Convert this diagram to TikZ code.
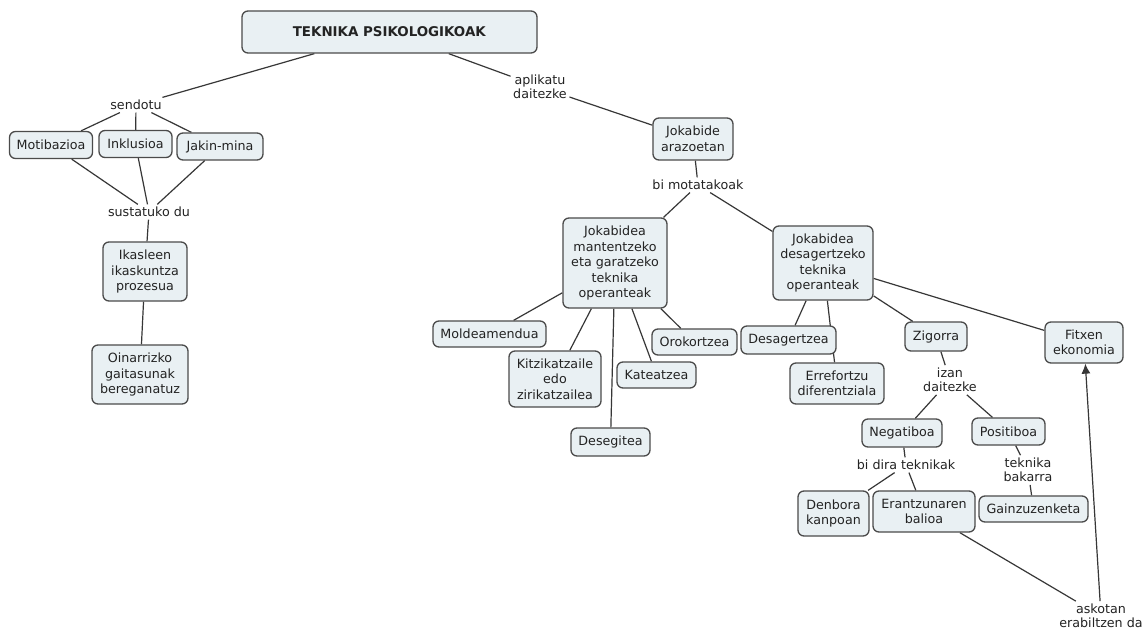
\documentclass[tikz,border=0pt]{standalone}
\usepackage{fontspec}
\setmainfont{DejaVu Sans}
\usetikzlibrary{arrows.meta,backgrounds}
\definecolor{boxfill}{RGB}{233,240,243}
\definecolor{boxline}{RGB}{75,75,75}
\definecolor{linkline}{RGB}{55,55,55}
\definecolor{txt}{RGB}{35,35,35}
\begin{document}
\begin{tikzpicture}[x=1pt,y=-1pt,
  concept/.style={draw=boxline, fill=boxfill, rounded corners=6pt, line width=1.3pt,
    inner sep=0pt, align=center, text=txt, font=\fontsize{12.7}{15.5}\selectfont},
  phrase/.style={inner sep=2.5pt, align=center, text=txt, font=\fontsize{12.7}{14.5}\selectfont},
  conn/.style={draw=linkline, line width=1.2pt},
  arr/.style={conn, -{Latex[length=10pt,width=9pt]}}
]
\useasboundingbox (0,0) rectangle (1146,631);

% concepts
\node[concept, minimum width=295pt, minimum height=42pt] (tek) at (389.5,32) {\fontsize{13.4}{16}\selectfont\textbf{TEKNIKA PSIKOLOGIKOAK}};
\node[concept, minimum width=83pt, minimum height=27pt] (moti) at (51,145) {Motibazioa};
\node[concept, minimum width=73pt, minimum height=27pt] (inkl) at (135.5,144) {Inklusioa};
\node[concept, minimum width=86pt, minimum height=27pt] (jaki) at (220,146.5) {Jakin-mina};
\node[concept, minimum width=84pt, minimum height=59pt] (ikas) at (145,271.5) {Ikasleen\\ikaskuntza\\prozesua};
\node[concept, minimum width=96pt, minimum height=59pt] (oina) at (140,374.5) {Oinarrizko\\gaitasunak\\bereganatuz};
\node[concept, minimum width=80pt, minimum height=42pt] (joka) at (693,139) {Jokabide\\arazoetan};
\node[concept, minimum width=104pt, minimum height=90pt] (mant) at (615,263) {Jokabidea\\mantentzeko\\eta garatzeko\\teknika\\operanteak};
\node[concept, minimum width=100pt, minimum height=74pt] (desa) at (823,263) {Jokabidea\\desagertzeko\\teknika\\operanteak};
\node[concept, minimum width=113pt, minimum height=26pt] (mold) at (489.5,334) {Moldeamendua};
\node[concept, minimum width=92pt, minimum height=56pt] (kitz) at (555,379) {Kitzikatzaile\\edo\\zirikatzailea};
\node[concept, minimum width=79pt, minimum height=28pt] (dese) at (610.5,442) {Desegitea};
\node[concept, minimum width=79pt, minimum height=26pt] (kate) at (656.5,375) {Kateatzea};
\node[concept, minimum width=85pt, minimum height=26pt] (orok) at (694.5,342) {Orokortzea};
\node[concept, minimum width=95pt, minimum height=28pt] (dsgt) at (788.5,340) {Desagertzea};
\node[concept, minimum width=94pt, minimum height=41pt] (erre) at (837,383.5) {Errefortzu\\diferentziala};
\node[concept, minimum width=62pt, minimum height=29pt] (zigo) at (936,336.5) {Zigorra};
\node[concept, minimum width=78pt, minimum height=41pt] (fitx) at (1084,342.5) {Fitxen\\ekonomia};
\node[concept, minimum width=80pt, minimum height=28pt] (nega) at (902,433) {Negatiboa};
\node[concept, minimum width=73pt, minimum height=27pt] (posi) at (1008.5,431.5) {Positiboa};
\node[concept, minimum width=71pt, minimum height=45pt] (denb) at (833.5,513.5) {Denbora\\kanpoan};
\node[concept, minimum width=102pt, minimum height=41pt] (eran) at (924,511.5) {Erantzunaren\\balioa};
\node[concept, minimum width=109pt, minimum height=26pt] (gain) at (1033.5,509) {Gainzuzenketa};

% linking phrases
\node[phrase] (send) at (136,105) {sendotu};
\node[phrase] (sust) at (149,212) {sustatuko du};
\node[phrase] (apli) at (540,87) {aplikatu\\daitezke};
\node[phrase] (bimo) at (698,185) {bi motatakoak};
\node[phrase] (izan) at (950,380) {izan\\daitezke};
\node[phrase] (bidi) at (906,465) {bi dira teknikak};
\node[phrase] (tekb) at (1028,470) {teknika\\bakarra};
\node[phrase] (asko) at (1101,616) {askotan\\erabiltzen da};

\begin{scope}[on background layer]
\fill[white] (0,0) rectangle (1146,631);
\draw[conn] (tek) -- (send);
\draw[conn] (send) -- (moti);
\draw[conn] (send) -- (inkl);
\draw[conn] (send) -- (jaki);
\draw[conn] (moti) -- (sust);
\draw[conn] (inkl) -- (sust);
\draw[conn] (jaki) -- (sust);
\draw[conn] (sust) -- (ikas);
\draw[conn] (ikas) -- (oina);
\draw[conn] (tek) -- (apli);
\draw[conn] (apli) -- (joka);
\draw[conn] (joka) -- (bimo);
\draw[conn] (bimo) -- (mant);
\draw[conn] (bimo) -- (desa);
\draw[conn] (mant) -- (mold);
\draw[conn] (mant) -- (kitz);
\draw[conn] (mant) -- (dese);
\draw[conn] (mant) -- (kate);
\draw[conn] (mant) -- (orok);
\draw[conn] (desa) -- (dsgt);
\draw[conn] (desa) -- (erre);
\draw[conn] (desa) -- (zigo);
\draw[conn] (desa) -- (fitx);
\draw[conn] (zigo) -- (izan);
\draw[conn] (izan) -- (nega);
\draw[conn] (izan) -- (posi);
\draw[conn] (nega) -- (bidi);
\draw[conn] (bidi) -- (denb);
\draw[conn] (bidi) -- (eran);
\draw[conn] (posi) -- (tekb);
\draw[conn] (tekb) -- (gain);
\draw[conn] (eran) -- (asko);
\draw[arr] (asko) -- (fitx);
\end{scope}
\end{tikzpicture}
\end{document}
